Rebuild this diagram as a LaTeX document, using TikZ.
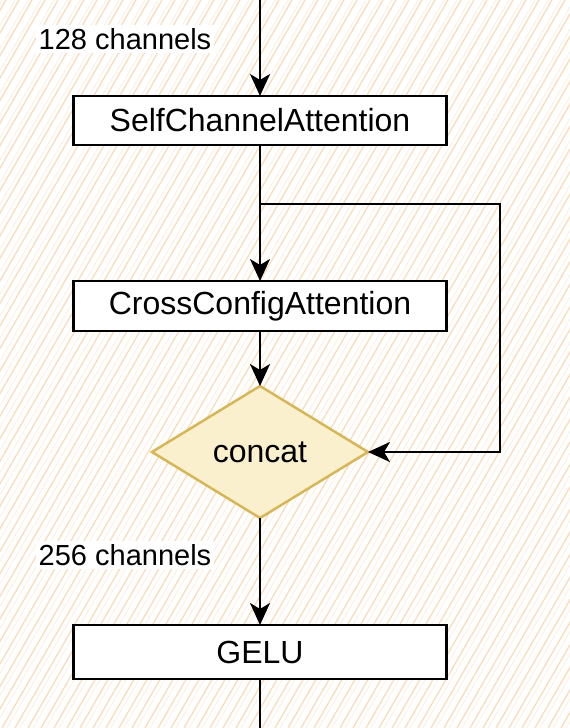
\documentclass[tikz,border=0pt]{standalone}
\usepackage{fontspec}
\setmainfont{Liberation Sans}
\usetikzlibrary{arrows.meta,shapes.geometric}
\definecolor{hatch}{RGB}{249,220,188}
\definecolor{dfill}{RGB}{250,240,205}
\definecolor{dstroke}{RGB}{214,182,86}
\tikzset{
  box/.style={draw, line width=2.5bp, minimum width=373bp, minimum height=49bp, fill=white,
    font=\fontsize{32bp}{38bp}\selectfont, inner sep=0pt, outer sep=0pt},
  lab/.style={fill=white, inner sep=3bp, font=\fontsize{29bp}{35bp}\selectfont},
  conn/.style={line width=2.5bp, -{Stealth[length=22bp,width=20bp,inset=6bp]}},
  plain/.style={line width=2.5bp},
}
\begin{document}
\begin{tikzpicture}[x=1bp,y=-1bp]
\useasboundingbox (0,0) rectangle (570,728);
\begin{scope}
  \clip (0,0) rectangle (570,728);
  \fill[white] (0,0) rectangle (570,728);
  \foreach \i in {-440,-427,...,580} {
    \draw[hatch, line width=1.3bp] (\i,728) -- ++(420,-728);
    \draw[hatch, line width=0.7bp, opacity=0.5] (\i+5,728) -- ++(424,-728);
  }
\end{scope}
\coordinate (top) at (260,0);
\coordinate (bot) at (260,728);
\coordinate (br) at (260,204);
\node[box] (sca) at (260,120.5) {SelfChannelAttention};
\node[box, minimum height=50bp] (cca) at (260,306) {CrossConfigAttention};
\node[box, minimum height=54bp] (gelu) at (260,652) {GELU};
\node[diamond, draw=dstroke, fill=dfill, line width=2.5bp, minimum width=216bp, minimum height=132bp,
  inner sep=0pt, outer sep=0pt, font=\fontsize{32bp}{38bp}\selectfont] (cat) at (260,452) {concat};
\node[lab] (l1) at (125,39) {128 channels};
\node[lab] (l2) at (125,555) {256 channels};
\draw[conn] (top) -- (sca.north);
\draw[conn] (sca.south) -- (cca.north);
\draw[conn] (br) -- ++(240,0) |- (cat.east);
\draw[conn] (cca.south) -- (cat.north);
\draw[conn] (cat.south) -- (gelu.north);
\draw[plain] (gelu.south) -- (bot);
\end{tikzpicture}
\end{document}
